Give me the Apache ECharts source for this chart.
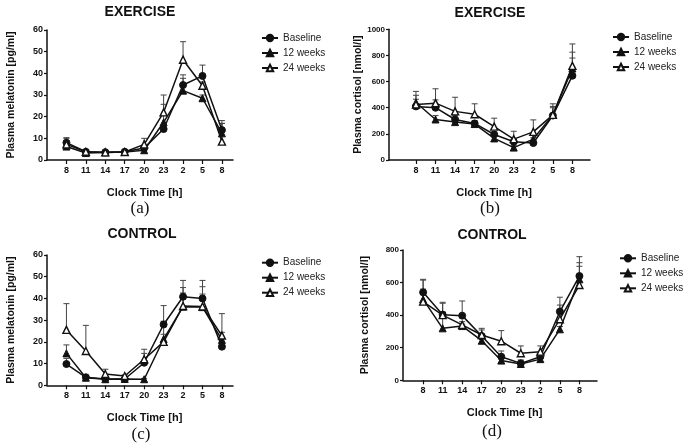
<!DOCTYPE html>
<html><head><meta charset="utf-8">
<script src="https://cdn.jsdelivr.net/npm/echarts@6/dist/echarts.min.js"></script>
<style>html,body{margin:0;padding:0;background:#fff}#c{width:684px;height:448px}</style>
</head><body><div id="c"></div>
<script>
// ---- data ----
const clockTimes = ['8','11','14','17','20','23','2','5','8'];
const seriesNames = ['Baseline','12 weeks','24 weeks'];

// (a) EXERCISE melatonin [pg/ml]
const exMelBaseline = [8, 3.8, 3.6, 3.8, 5.5, 14.3, 34.6, 38.8, 13.8];
const exMel12w      = [6.2, 3.2, 3.5, 3.7, 4.5, 17.4, 32, 28.5, 12.3];
const exMel24w      = [7.2, 3.8, 3.5, 3.7, 7.2, 22, 46.3, 34.3, 8.5];
const exMelBaselineErr = [10.3, 4.5, 4.2, 4.3, 6.5, 15.5, 39.3, 43.8, 16.9];
const exMel12wErr      = [9, 3.8, 4, 4, 5.5, 25.7, 37.7, 30, 16.9];
const exMel24wErr      = [10, 4.5, 4, 4.3, 10, 30, 54.6, 36, 18.2];

// (b) EXERCISE cortisol [nmol/l]
const exCorBaseline = [410, 400, 310, 280, 195, 140, 130, 340, 645];
const exCor12w      = [440, 310, 290, 275, 165, 95, 160, 345, 700];
const exCor24w      = [425, 435, 372, 350, 255, 160, 215, 345, 720];
const exCorBaselineErr = [465, 460, 340, 300, 215, 160, 145, 410, 780];
const exCor12wErr      = [525, 340, 310, 295, 180, 110, 170, 400, 825];
const exCor24wErr      = [495, 545, 480, 430, 320, 220, 307, 430, 888];

// (c) CONTROL melatonin [pg/ml]
const coMelBaseline = [9.8, 3.7, 2.9, 2.9, 10.4, 28, 40.8, 40, 17.8];
const coMel12w      = [14.7, 3.5, 2.8, 2.9, 2.8, 21.3, 36.2, 36, 20.9];
const coMel24w      = [25.5, 15.8, 5.2, 4.3, 12, 20, 36.5, 36.3, 22.9];
const coMelBaselineErr = [12.4, 4.2, 3.3, 3.3, 14.7, 36.7, 48.3, 48.3, 19];
const coMel12wErr      = [18.6, 4, 3.2, 3.3, 3.2, 23.5, 42.5, 42, 24.4];
const coMel24wErr      = [37.6, 27.6, 7.4, 4.8, 16.6, 29.5, 45, 45.4, 33];

// (d) CONTROL cortisol [nmol/l]
const coCorBaseline = [540, 403, 397, 272, 145, 104, 145, 422, 640];
const coCor12w      = [497, 319, 333, 243, 121, 100, 130, 313, 620];
const coCor24w      = [483, 400, 340, 278, 240, 166, 176, 375, 585];
const coCorBaselineErr = [620, 479, 487, 319, 180, 125, 165, 510, 759];
const coCor12wErr      = [615, 473, 345, 260, 135, 115, 150, 330, 722];
const coCor24wErr      = [560, 420, 360, 309, 305, 211, 211, 462, 700];

// ---- layout ----
const FONT = "'Liberation Sans', Arial, sans-serif";
const INK = '#111';
const panels = [
  {title:'EXERCISE', tag:'(a)', yName:'Plasma melatonin [pg/ml]', yMax:60, yInt:10,
   values:[exMelBaseline, exMel12w, exMel24w], errs:[exMelBaselineErr, exMel12wErr, exMel24wErr],
   grid:{left:47, top:30, width:186, height:130}, xMin:-1, xMax:8.57,
   legend:{left:261, top:31.5}, titleXY:[140,12.5], tagXY:[140,209], yGap:30, xGap:27, ySize:9},
  {title:'EXERCISE', tag:'(b)', yName:'Plasma cortisol [nmol/l]', yMax:1000, yInt:200,
   values:[exCorBaseline, exCor12w, exCor24w], errs:[exCorBaselineErr, exCor12wErr, exCor24wErr],
   grid:{left:389, top:29.3, width:201, height:130.7}, xMin:-1.38, xMax:8.9,
   legend:{left:612, top:30.5}, titleXY:[490,12.7], tagXY:[490,209], yGap:21, xGap:27, ySize:8},
  {title:'CONTROL', tag:'(c)', yName:'Plasma melatonin [pg/ml]', yMax:60, yInt:10,
   values:[coMelBaseline, coMel12w, coMel24w], errs:[coMelBaselineErr, coMel12wErr, coMel24wErr],
   grid:{left:47, top:255, width:186, height:130.3}, xMin:-1, xMax:8.57,
   legend:{left:261, top:256.2}, titleXY:[142,234], tagXY:[141,435], yGap:30, xGap:27, ySize:9},
  {title:'CONTROL', tag:'(d)', yName:'Plasma cortisol [nmol/l]', yMax:800, yInt:200,
   values:[coCorBaseline, coCor12w, coCor24w], errs:[coCorBaselineErr, coCor12wErr, coCor24wErr],
   grid:{left:403, top:250, width:194, height:130.3}, xMin:-1.03, xMax:8.9,
   legend:{left:619, top:251.8}, titleXY:[492,235], tagXY:[492,432], yGap:32, xGap:27.5, ySize:8}
];

const symbolStyles = [
  {symbol:'circle', itemStyle:{color:INK, borderColor:INK, borderWidth:1}},
  {symbol:'triangle', itemStyle:{color:INK, borderColor:INK, borderWidth:1}},
  {symbol:'triangle', itemStyle:{color:'#fff', borderColor:INK, borderWidth:1.4}}
];

const tickIdx = clockTimes.map((_, i) => i);

function errRender(params, api) {
  const p = api.coord([api.value(0), api.value(1)]);
  const t = api.coord([api.value(0), api.value(2)]);
  const hw = 3;
  const st = {stroke:'#444', lineWidth:1};
  return {type:'group', children:[
    {type:'line', shape:{x1:p[0], y1:p[1], x2:t[0], y2:t[1]}, style:st},
    {type:'line', shape:{x1:t[0]-hw, y1:t[1], x2:t[0]+hw, y2:t[1]}, style:st}
  ]};
}

const grid = [], xAxis = [], yAxis = [], series = [], legend = [], graphic = [];
panels.forEach((pn, k) => {
  grid.push(pn.grid);
  xAxis.push({
    type:'value', gridIndex:k, min:pn.xMin, max:pn.xMax,
    name:'Clock Time [h]', nameLocation:'middle', nameGap:pn.xGap,
    nameTextStyle:{fontFamily:FONT, fontWeight:'bold', fontSize:11, color:INK, padding:[0,0,0,9]},
    axisLine:{onZero:false, lineStyle:{color:INK, width:1.5}},
    axisTick:{show:true, length:4, customValues:tickIdx, lineStyle:{color:INK, width:1.2}},
    axisLabel:{customValues:tickIdx, formatter:v => clockTimes[Math.round(v)] || '', margin:6,
      fontFamily:FONT, fontWeight:'bold', fontSize:9, color:INK},
    splitLine:{show:false}
  });
  yAxis.push({
    type:'value', gridIndex:k, min:0, max:pn.yMax, interval:pn.yInt,
    name:pn.yName, nameLocation:'middle', nameGap:pn.yGap,
    nameTextStyle:{fontFamily:FONT, fontWeight:'bold', fontSize:10.5, color:INK},
    axisLine:{show:true, onZero:false, lineStyle:{color:INK, width:1.5}},
    axisTick:{show:true, length:3, lineStyle:{color:INK, width:1.2}},
    axisLabel:{margin:4, formatter:v => String(v), fontFamily:FONT, fontWeight:'bold', fontSize:pn.ySize, color:INK},
    splitLine:{show:false}
  });
  pn.values.forEach((vals, s) => {
    series.push({
      type:'custom', name:seriesNames[s] + ' SD', xAxisIndex:k, yAxisIndex:k, z:1,
      renderItem:errRender, encode:{x:0, y:[1,2]},
      data: vals.map((v, i) => [i, v, pn.errs[s][i]])
    });
  });
  pn.values.forEach((vals, s) => {
    series.push(Object.assign({
      type:'line', name:seriesNames[s], xAxisIndex:k, yAxisIndex:k, z:3,
      symbolSize:7, showSymbol:true,
      lineStyle:{color:INK, width:1.5},
      data: vals.map((v, i) => [i, v])
    }, symbolStyles[s]));
  });
  legend.push({
    data:seriesNames, orient:'vertical', left:pn.legend.left, top:pn.legend.top, padding:0,
    itemWidth:16, itemHeight:8, itemGap:2, selectedMode:false,
    textStyle:{fontFamily:FONT, fontSize:10, color:'#222', lineHeight:13}
  });
  graphic.push({type:'text', x:pn.titleXY[0], y:pn.titleXY[1],
    style:{text:pn.title, font:"bold 14px " + FONT, fill:INK, textAlign:'center', textVerticalAlign:'middle'}});
  graphic.push({type:'text', x:pn.tagXY[0], y:pn.tagXY[1],
    style:{text:pn.tag, font:"17px 'Liberation Serif', 'Times New Roman', serif", fill:INK, textAlign:'center', textVerticalAlign:'middle'}});
});

const chart = echarts.init(document.getElementById('c'), null, {renderer:'canvas'});
chart.setOption({
  animation:false, backgroundColor:'#fff',
  grid, xAxis, yAxis, series, legend, graphic
});
</script></body></html>
